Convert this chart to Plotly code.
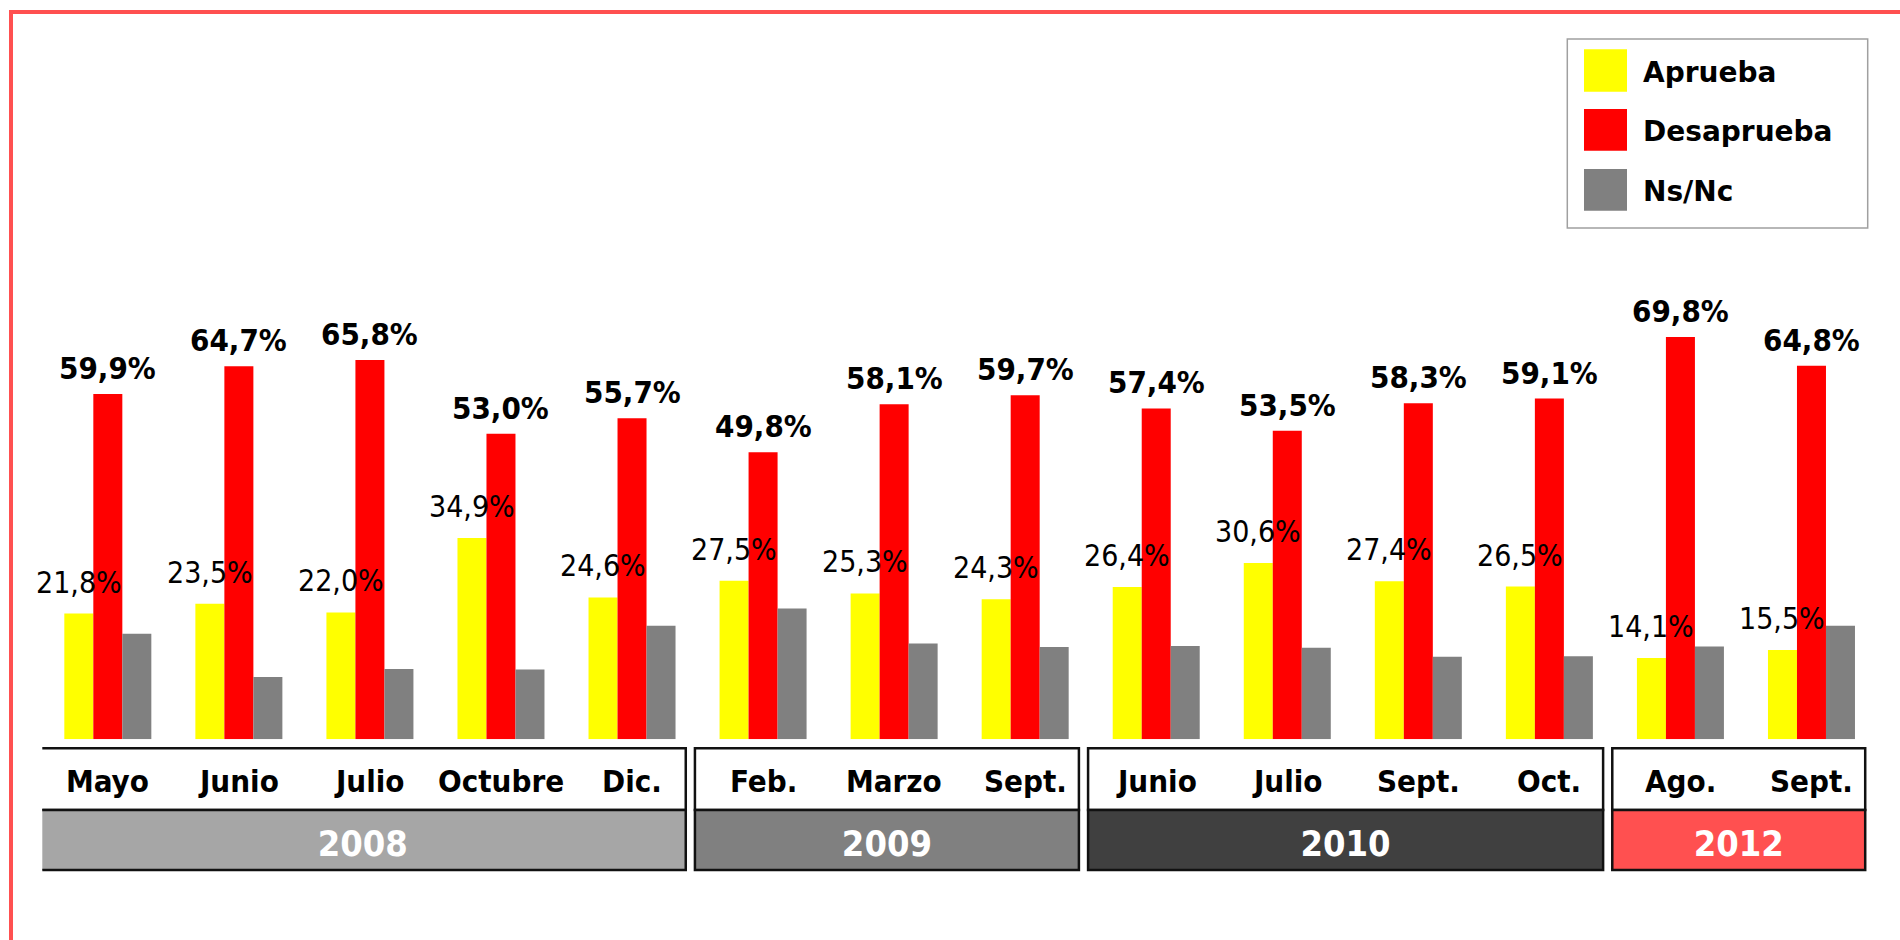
import plotly.graph_objects as go

# Survey waves (month + year) and results in percent
months = ["Mayo", "Junio", "Julio", "Octubre", "Dic.",
          "Feb.", "Marzo", "Sept.",
          "Junio", "Julio", "Sept.", "Oct.",
          "Ago.", "Sept."]
years = ["2008", "2008", "2008", "2008", "2008",
         "2009", "2009", "2009",
         "2010", "2010", "2010", "2010",
         "2012", "2012"]

aprueba = [21.8, 23.5, 22.0, 34.9, 24.6, 27.5, 25.3, 24.3, 26.4, 30.6, 27.4, 26.5, 14.1, 15.5]
desaprueba = [59.9, 64.7, 65.8, 53.0, 55.7, 49.8, 58.1, 59.7, 57.4, 53.5, 58.3, 59.1, 69.8, 64.8]
nsnc = [18.3, 10.8, 12.2, 12.1, 19.7, 22.7, 16.6, 16.0, 16.2, 15.9, 14.3, 14.4, 16.1, 19.7]

series_names = ["Aprueba", "Desaprueba", "Ns/Nc"]
series_colors = ["#FFFF00", "#FF0000", "#808080"]

year_groups = ["2008", "2009", "2010", "2012"]
year_colors = ["#A6A6A6", "#808080", "#404040", "#FF5050"]

W, H = 1900, 940
FONT = "DejaVu Sans"
FONT_NARROW = "DejaVu Sans Condensed, DejaVu Sans"

# plot area in pixels
px_left, px_right = 42.3, 1877.0
px_base, px_top = 739.3, 162.8
bargap = 0.336

keys = [f"{m} {y}" for m, y in zip(months, years)]


def fmt(v):
    return f"{v:.1f}".replace(".", ",") + "%"


fig = go.Figure()
for name, vals, col in zip(series_names, [aprueba, desaprueba, nsnc], series_colors):
    fig.add_trace(go.Bar(x=keys, y=vals, name=name, marker=dict(color=col, line=dict(width=0)),
                         showlegend=False, hoverinfo="x+y+name"))

slot_px = (px_right - px_left) / len(keys)
bar_px = slot_px * (1 - bargap) / 3

annotations = []
shapes = []

# value labels
for k, a, d in zip(keys, aprueba, desaprueba):
    annotations.append(dict(x=k, y=d, xref="x", yref="y", text=fmt(d), showarrow=False,
                            yanchor="bottom", yshift=6,
                            font=dict(family=FONT_NARROW, size=31, color="black", weight="bold")))
    annotations.append(dict(x=k, y=a, xref="x", yref="y", text=fmt(a), showarrow=False,
                            yanchor="bottom", yshift=12, xshift=-bar_px,
                            font=dict(family=FONT_NARROW, size=30, color="black")))


def py(p):
    return 1 - p / H


def px(p):
    return p / W


# month / year boxes under the bars
box_top, box_mid, box_bot = 748.3, 810.0, 870.0
for yr, col in zip(year_groups, year_colors):
    idx = [i for i, y in enumerate(years) if y == yr]
    x0, x1 = idx[0] - 0.52, idx[-1] + 0.41
    shapes.append(dict(type="rect", xref="x", yref="paper", x0=x0, x1=x1,
                       y0=py(box_mid), y1=py(box_top), fillcolor="white",
                       line=dict(color="#111111", width=2.5), layer="above"))
    shapes.append(dict(type="rect", xref="x", yref="paper", x0=x0, x1=x1,
                       y0=py(box_bot), y1=py(box_mid), fillcolor=col,
                       line=dict(color="#111111", width=2.5), layer="above",
                       label=dict(text=yr, textposition="middle center",
                                  font=dict(family=FONT_NARROW, size=36, color="white", weight="bold"))))

for k, m in zip(keys, months):
    annotations.append(dict(x=k, y=py(781), xref="x", yref="paper", text=m, showarrow=False,
                            yanchor="middle",
                            font=dict(family=FONT_NARROW, size=31, color="black", weight="bold")))

# legend panel
shapes.append(dict(type="rect", xref="paper", yref="paper", x0=px(1567.3), x1=px(1867.7),
                   y0=py(228), y1=py(39), fillcolor="white", line=dict(color="#A0A0A0", width=1.5)))
rows = [(49.3, 91.7), (109.0, 150.7), (169.0, 210.7)]
for (t, b), name, col in zip(rows, series_names, series_colors):
    shapes.append(dict(type="rect", xref="paper", yref="paper", x0=px(1584), x1=px(1627),
                       y0=py(b), y1=py(t), fillcolor=col, line=dict(width=0)))
    annotations.append(dict(x=px(1641), y=py((t + b) / 2 + 1.5), xref="paper", yref="paper",
                            text=name, showarrow=False, xanchor="left", yanchor="middle",
                            font=dict(family=FONT, size=28, color="black", weight="bold")))

# outer frame
shapes.append(dict(type="rect", xref="paper", yref="paper", x0=px(11), x1=1.02,
                   y0=-0.02, y1=py(12), line=dict(color="#FF5050", width=4)))

fig.update_layout(
    width=W, height=H,
    margin=dict(l=0, r=0, t=0, b=0),
    paper_bgcolor="white", plot_bgcolor="white",
    barmode="group", bargap=bargap, bargroupgap=0,
    xaxis=dict(domain=[px(px_left), px(px_right)], range=[-0.5, len(keys) - 0.5],
               showticklabels=False, showgrid=False, zeroline=False, showline=False, ticks=""),
    yaxis=dict(domain=[py(px_base), py(px_top)], range=[0, 100],
               showticklabels=False, showgrid=False, zeroline=False, showline=False, ticks=""),
    shapes=shapes, annotations=annotations,
    showlegend=False,
    font=dict(family=FONT),
)

fig.write_html("out.html")
